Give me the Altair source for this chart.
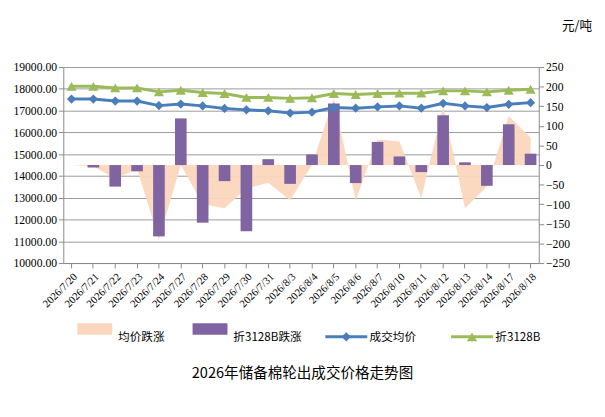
import altair as alt
import pandas as pd

dates = ["2026/7/20","2026/7/21","2026/7/22","2026/7/23","2026/7/24","2026/7/27","2026/7/28",
         "2026/7/29","2026/7/30","2026/7/31","2026/8/3","2026/8/4","2026/8/5","2026/8/6","2026/8/7",
         "2026/8/10","2026/8/11","2026/8/12","2026/8/13","2026/8/14","2026/8/17","2026/8/18"]
avg_chg = [0,-3,-35,-10,-190,0,-100,-110,-60,-45,-90,0,170,-90,65,60,-85,150,-110,-55,125,70]
b_chg = [0,-6,-55,-16,-182,119,-147,-41,-169,15,-48,27,157,-46,59,22,-18,127,7,-53,104,29]
avg_price = [17530,17530,17440,17440,17230,17300,17215,17100,17035,16990,16885,16930,17140,17110,
             17170,17215,17110,17335,17215,17140,17290,17365]
b_price = [18115,18115,18040,18040,17860,17935,17830,17785,17605,17605,17560,17590,17785,17740,
           17785,17800,17800,17905,17905,17860,17935,17980]

df = pd.DataFrame({"date": dates, "avg_chg": avg_chg, "b_chg": b_chg,
                   "avg_price": avg_price, "b_price": b_price})

FONT = "Liberation Serif"
xenc = alt.X("date:N", sort=dates, title=None,
             scale=alt.Scale(paddingInner=0.45, paddingOuter=0.1),
             axis=alt.Axis(labelAngle=-45, labelFontSize=11, labelFont=FONT, labelColor="#000",
                           domainColor="#888", tickColor="#888", labelPadding=3))
yr = alt.Scale(domain=[-250, 250], nice=False)
yr_axis = alt.Axis(orient="right", values=list(range(-250, 251, 50)), grid=False, title=None,
                   labelFont=FONT, labelFontSize=12, labelColor="#000", domainColor="#888", tickColor="#888")
yl_axis = alt.Axis(orient="left", values=list(range(10000, 19001, 1000)), format=".2f", title=None, grid=True,
                   gridColor="#999", labelFont=FONT, labelFontSize=12, labelColor="#000",
                   domainColor="#888", tickColor="#888")
yl = alt.Scale(domain=[10000, 19000], nice=False)

base = alt.Chart(df)
grid_axis = base.mark_line(opacity=0).encode(x=xenc, y=alt.Y("avg_price:Q", scale=yl, axis=yl_axis))
area = base.mark_area(color="#FBD7BD", opacity=0.95).encode(
    x=xenc, y=alt.Y("avg_chg:Q", scale=yr, axis=yr_axis))
bars = base.mark_bar(color="#8064A2", size=12).encode(
    x=xenc, y=alt.Y("b_chg:Q", scale=yr, axis=None), y2=alt.datum(0))
l1 = base.mark_line(color="#4A7EBB", strokeWidth=3, point=alt.OverlayMarkDef(shape="diamond", size=90, color="#4A7EBB", filled=True)).encode(
    x=xenc, y=alt.Y("avg_price:Q", scale=yl, axis=None))
l2 = base.mark_line(color="#9BBB59", strokeWidth=3, point=alt.OverlayMarkDef(shape="triangle-up", size=110, color="#9BBB59", filled=True)).encode(
    x=xenc, y=alt.Y("b_price:Q", scale=yl, axis=None))

main = alt.layer(grid_axis, area, bars, l1, l2).resolve_scale(y="independent").properties(width=490, height=202)

leg_names = ["均价跌涨", "折3128B跌涨", "成交均价", "折3128B"]
leg_pos = [0.06, 0.28, 0.54, 0.78]
leg = pd.DataFrame({"name": leg_names, "pos": leg_pos})
lx = alt.X("pos:Q", scale=alt.Scale(domain=[0, 1]), axis=None)
lbase = alt.Chart(leg)
sw1 = lbase.transform_filter("datum.pos < 0.1").mark_rect(color="#FBD7BD", width=36, height=12).encode(x=lx)
sw2 = lbase.transform_filter("datum.pos > 0.2 && datum.pos < 0.4").mark_rect(color="#8064A2", width=36, height=12).encode(x=lx)
sw3 = lbase.transform_filter("datum.pos > 0.5 && datum.pos < 0.6").transform_calculate(x1="datum.pos-0.04", x2="datum.pos+0.04").mark_rule(color="#4A7EBB", strokeWidth=3).encode(
    x=alt.X("x1:Q", scale=alt.Scale(domain=[0, 1]), axis=None), x2="x2:Q")
pt3 = lbase.transform_filter("datum.pos > 0.5 && datum.pos < 0.6").mark_point(shape="diamond", size=90, color="#4A7EBB", filled=True, opacity=1).encode(x=lx)
sw4 = lbase.transform_filter("datum.pos > 0.7").transform_calculate(x1="datum.pos-0.04", x2="datum.pos+0.04").mark_rule(color="#9BBB59", strokeWidth=3).encode(
    x=alt.X("x1:Q", scale=alt.Scale(domain=[0, 1]), axis=None), x2="x2:Q")
pt4 = lbase.transform_filter("datum.pos > 0.7").mark_point(shape="triangle-up", size=110, color="#9BBB59", filled=True, opacity=1).encode(x=lx)
txt = lbase.mark_text(align="left", dx=24, font="Noto Sans CJK SC", fontSize=12, color="#000").encode(x=lx, text="name:N")
legend = alt.layer(sw1, sw2, sw3, pt3, sw4, pt4, txt).properties(width=540, height=16)

unit = alt.Chart(pd.DataFrame({"t": ["元/吨"]})).mark_text(font="Noto Sans CJK SC", fontSize=13, align="right").encode(
    text="t:N", x=alt.value(545), y=alt.value(8)).properties(width=540, height=30)

chart = alt.vconcat(unit, main, legend, spacing=14).properties(
    title=alt.TitleParams("2026年储备棉轮出成交价格走势图", orient="bottom", font="Noto Sans CJK SC",
                          fontSize=15, fontWeight="normal", offset=22, anchor="middle")
).configure_view(stroke=None)

chart.save("out.html", embed_options={"renderer": "svg", "actions": False})
